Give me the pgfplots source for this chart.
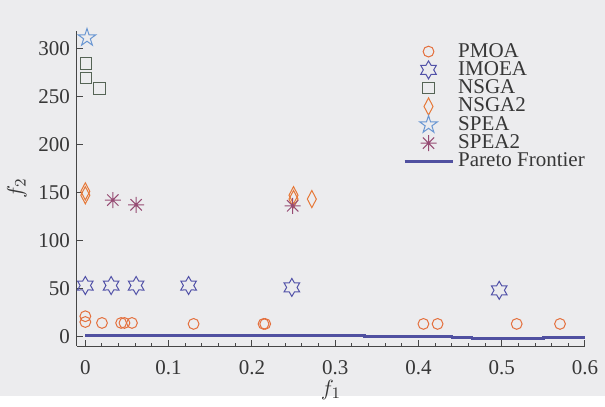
\documentclass[border=0pt]{standalone}
\usepackage{pgfplots}
\pgfplotsset{compat=1.18}
\usepackage{fontspec}
\setmainfont{Liberation Serif}
\usetikzlibrary{plotmarks}

\definecolor{paper}{RGB}{236,236,238}
\definecolor{axisgray}{RGB}{70,70,70}
\definecolor{textgray}{RGB}{55,55,55}
\definecolor{pmoa}{RGB}{228,112,62}
\definecolor{imoea}{RGB}{82,82,168}
\definecolor{nsga}{RGB}{85,100,85}
\definecolor{nsgatwo}{RGB}{230,120,55}
\definecolor{spea}{RGB}{105,150,210}
\definecolor{speatwo}{RGB}{150,75,115}
\definecolor{pareto}{RGB}{80,80,160}

% six-pointed outline star
\pgfdeclareplotmark{hexagram}{%
  \pgfpathmoveto{\pgfpointpolar{90}{\pgfplotmarksize}}%
  \foreach \k in {0,...,5}{%
    \pgfpathlineto{\pgfpointpolar{120+60*\k}{0.577\pgfplotmarksize}}%
    \pgfpathlineto{\pgfpointpolar{150+60*\k}{\pgfplotmarksize}}%
  }%
  \pgfpathclose\pgfusepathqstroke}
% five-pointed outline star
\pgfdeclareplotmark{pentagram}{%
  \pgfpathmoveto{\pgfpointpolar{90}{\pgfplotmarksize}}%
  \foreach \k in {0,...,4}{%
    \pgfpathlineto{\pgfpointpolar{126+72*\k}{0.382\pgfplotmarksize}}%
    \pgfpathlineto{\pgfpointpolar{162+72*\k}{\pgfplotmarksize}}%
  }%
  \pgfpathclose\pgfusepathqstroke}
% eight-armed asterisk
\pgfdeclareplotmark{aster}{%
  \foreach \a in {0,45,90,135}{%
    \pgfpathmoveto{\pgfpointpolar{\a}{\pgfplotmarksize}}%
    \pgfpathlineto{\pgfpointpolar{\a+180}{\pgfplotmarksize}}%
  }%
  \pgfusepathqstroke}

\begin{document}
\begin{tikzpicture}
\fill[paper] (0,0) rectangle (302.5pt,198pt);
\begin{axis}[
  at={(38.5pt,25pt)}, anchor=south west,
  scale only axis, width=254pt, height=157.5pt,
  xmin=-0.01, xmax=0.6, ymin=-10, ymax=318,
  axis lines*=left,
  axis line style={axisgray, line width=0.5pt},
  xtick={0,0.1,...,0.6},
  ytick={0,50,...,300},
  minor x tick num=4,
  tick align=inside,
  major tick length=3pt, minor tick length=1.3pt,
  every tick/.style={axisgray, line width=0.5pt},
  tick label style={font=\fontsize{10.5}{12}\selectfont, text=textgray},
  xticklabel style={yshift=-3.5pt},
  /pgf/number format/assume math mode=true,
  xticklabel={\pgfmathprintnumber[fixed,precision=1]{\tick}},
  xlabel={$f_1$}, ylabel={$f_2$},
  label style={font=\fontsize{11}{12}\selectfont, text=textgray},
  xlabel style={yshift=4pt},
  ylabel style={yshift=-1pt},
  legend image code/.code={%
    \draw[mark repeat=2,mark phase=2]
      plot coordinates {(0cm,0cm) (0.42cm,0cm) (0.85cm,0cm)};},
  legend style={at={(1.02,0.985)}, anchor=north east, draw=none, fill=none,
    font=\fontsize{10.5}{10.5}\selectfont, text=textgray,
    row sep=-2.3pt, nodes={inner ysep=1.5pt}},
  legend cell align=left,
  clip=false,
]
\addplot[only marks, mark=o, mark size=2.7pt, pmoa, line width=0.5pt] coordinates {
  (0,21) (0,15) (0.02,14) (0.043,14) (0.047,14) (0.056,14) (0.13,13)
  (0.214,13) (0.216,13) (0.406,13) (0.423,13) (0.518,13) (0.57,13)};
\addlegendentry{PMOA}
\addplot[only marks, mark=hexagram, mark size=4.5pt, imoea, line width=0.5pt] coordinates {
  (0,53) (0.031,53) (0.061,53) (0.124,53) (0.248,51) (0.497,48)};
\addlegendentry{IMOEA}
\addplot[only marks, mark=square, mark size=2.9pt, nsga, line width=0.5pt] coordinates {
  (0.001,284) (0.001,269) (0.017,258)};
\addlegendentry{NSGA}
\addplot[only marks, mark=diamond, mark size=4.3pt, mark options={xscale=0.7}, nsgatwo, line width=0.5pt] coordinates {
  (0,151) (0,147) (0.25,147) (0.25,143) (0.272,143)};
\addlegendentry{NSGA2}
\addplot[only marks, mark=pentagram, mark size=4.6pt, spea, line width=0.5pt] coordinates {
  (0.002,311)};
\addlegendentry{SPEA}
\addplot[only marks, mark=aster, mark size=4pt, speatwo, line width=0.5pt] coordinates {
  (0.033,142) (0.061,137) (0.249,136)};
\addlegendentry{SPEA2}
\addplot[pareto, line width=1.2pt, mark=none, const plot] coordinates {
  (0,1) (0.335,0) (0.44,-1) (0.464,-2) (0.55,-1) (0.6,-1)};
\addlegendentry{Pareto Frontier}
\end{axis}
\end{tikzpicture}
\end{document}
